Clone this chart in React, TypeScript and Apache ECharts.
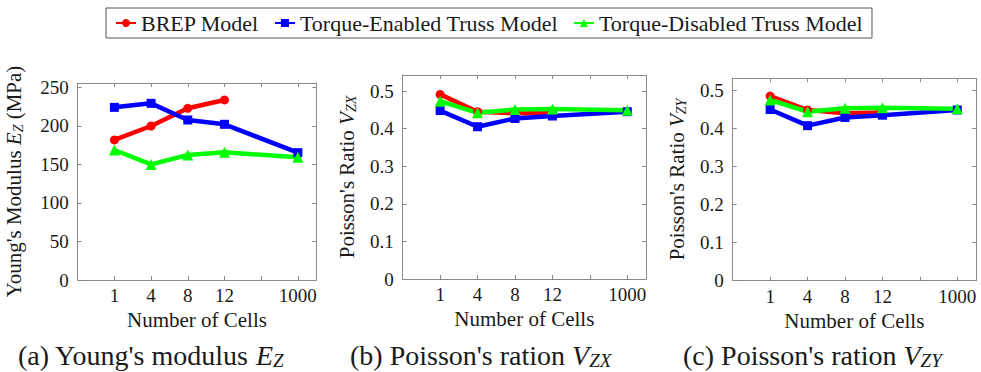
import React, { useEffect, useRef } from "react";
import * as echarts from "echarts";

// ---- data ----
const cellLabels = ["1", "4", "8", "12", "1000"];
const cellSlots = [1, 2, 3, 4, 6];

const seriesNames = ["BREP Model", "Torque-Enabled Truss Model", "Torque-Disabled Truss Model"];
const seriesColors = ["#ff0000", "#0000ff", "#00ff00"];
const seriesSymbols = ["circle", "rect", "triangle"];

const youngBrep = [181.7, 199.8, 222.8, 233.6];
const youngEnabled = [224, 229.2, 207.6, 202, 165.2];
const youngDisabled = [168.7, 150, 162.2, 165.7, 159.2];

const poissonZXBrep = [0.491, 0.445, 0.441, 0.441];
const poissonZXEnabled = [0.448, 0.405, 0.427, 0.4335, 0.445];
const poissonZXDisabled = [0.473, 0.442, 0.451, 0.452, 0.449];

const poissonZYBrep = [0.484, 0.4476, 0.439, 0.441];
const poissonZYEnabled = [0.449, 0.4065, 0.428, 0.434, 0.4476];
const poissonZYDisabled = [0.474, 0.443, 0.452, 0.4537, 0.451];

const FONT = "Liberation Serif";
const TEXT = "#1a1a1a";
const FRAME = "#8a8a8a";

const richFor = (fam: string, size: number, subSize: number, lh: number) => ({
  it: { fontStyle: "italic", fontFamily: fam, fontSize: size, lineHeight: lh, color: TEXT },
  sub: { fontStyle: "italic", fontFamily: fam, fontSize: subSize, lineHeight: subSize, verticalAlign: "bottom", color: TEXT },
});

const panels = [
  {
    grid: { left: 77.7, top: 83, width: 238.5, height: 197 },
    yMax: 255.6,
    yInterval: 50,
    yName: "Young's Modulus {it|E}{sub|Z} (MPa)",
    nameGap: 52,
    values: [youngBrep, youngEnabled, youngDisabled],
    caption: "(a) Young's modulus {it|E}{sub|Z}",
    captionX: 18,
  },
  {
    grid: { left: 402.7, top: 75, width: 243.3, height: 204 },
    yMax: 0.5426,
    yInterval: 0.1,
    yName: "Poisson's Ratio {it|V}{sub|ZX}",
    nameGap: 44,
    values: [poissonZXBrep, poissonZXEnabled, poissonZXDisabled],
    caption: "(b) Poisson's ration {it|V}{sub|ZX}",
    captionX: 350,
  },
  {
    grid: { left: 732.7, top: 78.3, width: 243.3, height: 202.4 },
    yMax: 0.5307,
    yInterval: 0.1,
    yName: "Poisson's Ratio {it|V}{sub|ZY}",
    nameGap: 44,
    values: [poissonZYBrep, poissonZYEnabled, poissonZYDisabled],
    caption: "(c) Poisson's ration {it|V}{sub|ZY}",
    captionX: 683,
  },
];

function buildOption() {
  const grid: any[] = [];
  const xAxis: any[] = [];
  const yAxis: any[] = [];
  const series: any[] = [];
  const graphic: any[] = [];

  panels.forEach((p, gi) => {
    grid.push({ ...p.grid, containLabel: false, show: false });
    const tick = { show: true, inside: true, length: 4, lineStyle: { color: FRAME, width: 1 } };
    const line = { show: true, onZero: false, lineStyle: { color: FRAME, width: 1 } };
    xAxis.push({
      type: "value",
      gridIndex: gi,
      min: 0,
      max: 6.5,
      interval: 1,
      axisLine: line,
      axisTick: tick,
      splitLine: { show: false },
      axisLabel: {
        showMaxLabel: false,
        showMinLabel: false,
        margin: 6,
        fontFamily: FONT,
        fontSize: 19,
        color: TEXT,
        formatter: (v: number) => {
          const k = cellSlots.indexOf(Math.round(v * 1000) / 1000);
          return k >= 0 ? cellLabels[k] : "";
        },
      },
      name: "Number of Cells",
      nameLocation: "middle",
      nameGap: 26,
      nameTextStyle: { fontFamily: FONT, fontSize: 21, color: TEXT },
    });
    xAxis.push({
      type: "value",
      gridIndex: gi,
      position: "top",
      min: 0,
      max: 6.5,
      interval: 1,
      axisLine: line,
      axisTick: tick,
      splitLine: { show: false },
      axisLabel: { show: false },
    });
    yAxis.push({
      type: "value",
      gridIndex: gi,
      min: 0,
      max: p.yMax,
      interval: p.yInterval,
      axisLine: line,
      axisTick: tick,
      splitLine: { show: false },
      axisLabel: {
        showMaxLabel: false,
        margin: 9,
        fontFamily: FONT,
        fontSize: 19,
        color: TEXT,
        formatter: (v: number) => {
          if (Math.abs(v) < 1e-9) return "0";
          return p.yInterval < 1 ? v.toFixed(1) : String(Math.round(v));
        },
      },
      name: p.yName,
      nameLocation: "middle",
      nameRotate: 90,
      nameGap: p.nameGap,
      nameTextStyle: {
        fontFamily: FONT,
        fontSize: 21,
        lineHeight: 24,
        color: TEXT,
        rich: richFor(FONT, 21, 14, 24),
      },
    });
    yAxis.push({
      type: "value",
      gridIndex: gi,
      position: "right",
      min: 0,
      max: p.yMax,
      interval: p.yInterval,
      axisLine: line,
      axisTick: tick,
      splitLine: { show: false },
      axisLabel: { show: false },
    });

    p.values.forEach((vals, si) => {
      series.push({
        type: "line",
        name: seriesNames[si],
        xAxisIndex: gi * 2,
        yAxisIndex: gi * 2,
        data: vals.map((v, i) => [cellSlots[i], v]),
        color: seriesColors[si],
        symbol: seriesSymbols[si],
        symbolSize: si === 2 ? 11 : 9,
        lineStyle: { width: 4.5, color: seriesColors[si] },
        itemStyle: { color: seriesColors[si] },
        emphasis: { disabled: true },
      });
    });

    graphic.push({
      type: "text",
      left: p.captionX,
      top: 340,
      style: {
        text: p.caption,
        fontFamily: FONT,
        fontSize: 28,
        lineHeight: 30,
        fill: TEXT,
        rich: richFor(FONT, 28, 19, 30),
      },
    });
  });

  return {
    animation: false,
    backgroundColor: "#ffffff",
    legend: {
      data: seriesNames,
      left: 106,
      top: 8,
      padding: [4, 9, 4, 9],
      itemGap: 15,
      itemWidth: 20,
      itemHeight: 10,
      borderColor: "#555",
      borderWidth: 1,
      textStyle: { fontFamily: FONT, fontSize: 22, color: TEXT },
    },
    grid,
    xAxis,
    yAxis,
    series,
    graphic,
  };
}

export default function App() {
  const ref = useRef<HTMLDivElement>(null);
  useEffect(() => {
    document.body.style.margin = "0";
    if (!ref.current) return;
    const chart = echarts.init(ref.current, undefined, { renderer: "svg" });
    chart.setOption(buildOption() as any);
    return () => chart.dispose();
  }, []);
  return <div ref={ref} style={{ width: 981, height: 372 }} />;
}
